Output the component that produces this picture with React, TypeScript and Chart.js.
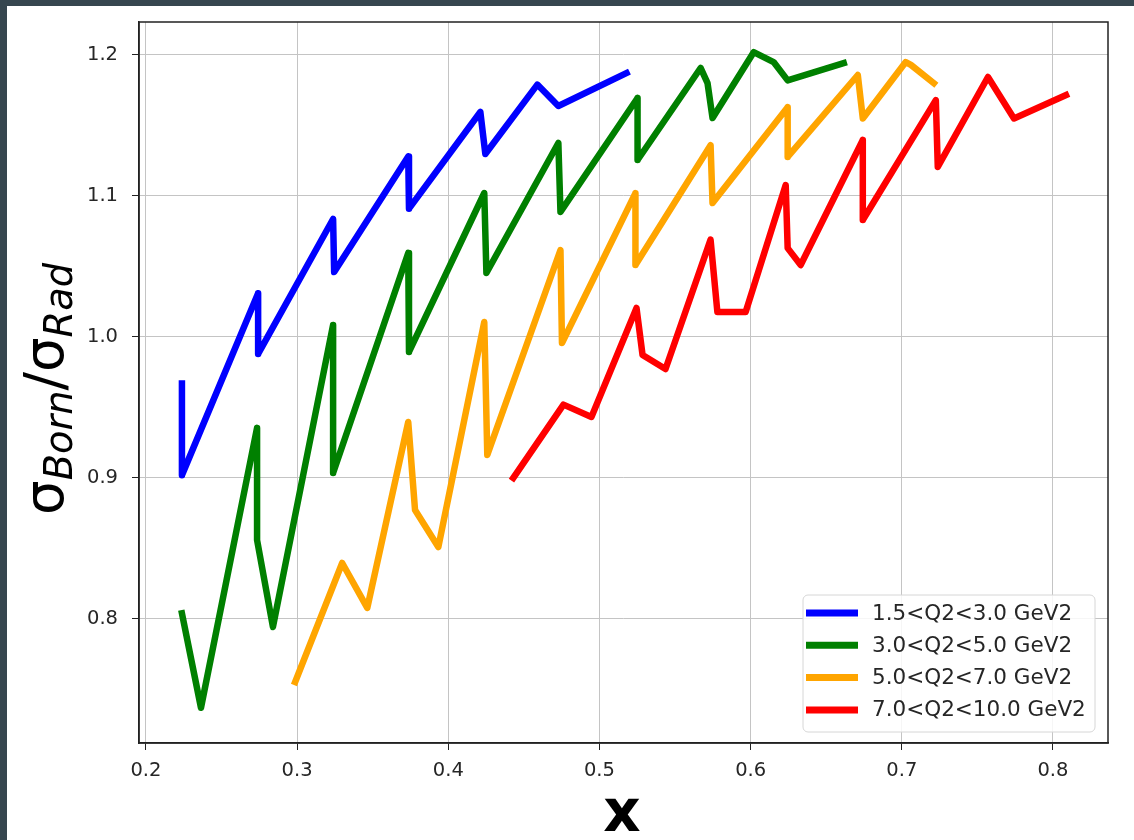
import React, { useEffect, useRef } from "react";
import { Chart, registerables } from "chart.js";

Chart.register(...registerables);

// ---- data ----
const seriesLabels = ["1.5<Q2<3.0 GeV2", "3.0<Q2<5.0 GeV2", "5.0<Q2<7.0 GeV2", "7.0<Q2<10.0 GeV2"];
const seriesColors = ["#0000ff", "#008000", "#ffa500", "#ff0000"];

const blueX = [0.2238, 0.2238, 0.2742, 0.2742, 0.3238, 0.3245, 0.3735, 0.374, 0.4212, 0.4245, 0.4589, 0.4728, 0.5179];
const blueY = [0.967, 0.902, 1.031, 0.988, 1.0837, 1.046, 1.128, 1.091, 1.1596, 1.1298, 1.179, 1.1638, 1.1872];

const greenX = [0.2238, 0.2364, 0.2735, 0.2735, 0.284, 0.3238, 0.3238, 0.3735, 0.374, 0.4238, 0.4252, 0.4728, 0.4742, 0.5252, 0.5252, 0.5669, 0.5715, 0.5748, 0.602, 0.6152, 0.6245, 0.6616];
const greenY = [0.804, 0.737, 0.9355, 0.856, 0.7943, 1.0085, 0.9035, 1.0596, 0.9894, 1.1021, 1.0454, 1.1376, 1.0887, 1.1695, 1.1255, 1.1908, 1.18, 1.1553, 1.202, 1.195, 1.182, 1.1943];

const orangeX = [0.2987, 0.3298, 0.3464, 0.3735, 0.378, 0.3934, 0.4238, 0.4258, 0.4742, 0.4752, 0.5238, 0.5238, 0.5735, 0.5748, 0.6245, 0.6245, 0.6709, 0.6742, 0.7026, 0.706, 0.7212];
const orangeY = [0.7553, 0.8397, 0.8078, 0.9397, 0.8773, 0.851, 1.0106, 0.9163, 1.0617, 0.9957, 1.102, 1.051, 1.136, 1.095, 1.163, 1.1277, 1.1858, 1.155, 1.195, 1.193, 1.18];

const redX = [0.443, 0.4762, 0.4947, 0.5245, 0.5285, 0.5437, 0.5735, 0.578, 0.5967, 0.6232, 0.6245, 0.6331, 0.6742, 0.6742, 0.7225, 0.7238, 0.757, 0.7742, 0.8086];
const redY = [0.9, 0.952, 0.9433, 1.0206, 0.9872, 0.9773, 1.069, 1.0177, 1.0177, 1.1078, 1.063, 1.051, 1.1397, 1.083, 1.168, 1.1206, 1.1844, 1.155, 1.1716];

const xTicks = [0.2, 0.3, 0.4, 0.5, 0.6, 0.7, 0.8];
const yTicks = [0.8, 0.9, 1.0, 1.1, 1.2];
const xRange = [0.1954, 0.8364];
const yRange = [0.712, 1.2234];

const xTitle = "x";
const yTitleParts = [
  { t: "σ", sub: false, italic: false },
  { t: "Born", sub: true, italic: true },
  { t: "/", sub: false, italic: false },
  { t: "σ", sub: false, italic: false },
  { t: "Rad", sub: true, italic: true },
];

const FONT = '"DejaVu Sans", "Liberation Sans", sans-serif';

const decorPlugin = {
  id: "decor",
  afterDraw(chart: any) {
    const ctx = chart.ctx as CanvasRenderingContext2D;
    const a = chart.chartArea;
    ctx.save();
    // frame
    ctx.strokeStyle = "#222";
    ctx.lineWidth = 1.5;
    ctx.strokeRect(a.left, a.top, a.right - a.left, a.bottom - a.top);

    // legend
    const bw = 292, bh = 137;
    const bx = a.right - 13 - bw, by = a.bottom - 11 - bh;
    const r = 5;
    ctx.beginPath();
    ctx.moveTo(bx + r, by);
    ctx.arcTo(bx + bw, by, bx + bw, by + bh, r);
    ctx.arcTo(bx + bw, by + bh, bx, by + bh, r);
    ctx.arcTo(bx, by + bh, bx, by, r);
    ctx.arcTo(bx, by, bx + bw, by, r);
    ctx.closePath();
    ctx.fillStyle = "rgba(255,255,255,0.85)";
    ctx.fill();
    ctx.strokeStyle = "#d6d6d6";
    ctx.lineWidth = 1;
    ctx.stroke();
    ctx.font = `21.5px ${FONT}`;
    ctx.textBaseline = "middle";
    ctx.textAlign = "left";
    seriesLabels.forEach((lab, i) => {
      const cy = by + 18 + i * 32.3;
      ctx.strokeStyle = seriesColors[i];
      ctx.lineWidth = 7;
      ctx.lineCap = "butt";
      ctx.beginPath();
      ctx.moveTo(bx + 3, cy);
      ctx.lineTo(bx + 55, cy);
      ctx.stroke();
      ctx.fillStyle = "#262626";
      ctx.fillText(lab, bx + 69, cy + 1);
    });

    // x title
    ctx.fillStyle = "#000";
    ctx.font = `bold 58px ${FONT}`;
    ctx.textAlign = "center";
    ctx.textBaseline = "alphabetic";
    ctx.fillText(xTitle, 622, 831);

    // y title (rotated, with subscripts)
    const base = 58, subScale = 0.7;
    const fontFor = (p: any, s: number) => `${p.italic ? "italic " : ""}${p.sub ? s * subScale : s}px ${FONT}`;
    const measure = (s: number) => yTitleParts.map((p) => { ctx.font = fontFor(p, s); return ctx.measureText(p.t).width; });
    let w = measure(base);
    let total = w.reduce((s, v) => s + v, 0);
    const size = base * (252 / total);
    w = measure(size);
    total = w.reduce((s, v) => s + v, 0);
    ctx.translate(63, 389);
    ctx.rotate(-Math.PI / 2);
    ctx.textAlign = "left";
    let x = -total / 2;
    yTitleParts.forEach((p, i) => {
      ctx.font = fontFor(p, size);
      ctx.fillText(p.t, x, p.sub ? size * 0.16 : 0);
      x += w[i];
    });
    ctx.restore();
  },
};

function makeData(xs: number[], ys: number[]) {
  return xs.map((x, i) => ({ x, y: ys[i] }));
}

export default function App() {
  const ref = useRef<HTMLCanvasElement>(null);
  useEffect(() => {
    const canvas = ref.current!;
    const all = [[blueX, blueY], [greenX, greenY], [orangeX, orangeY], [redX, redY]];
    const chart = new Chart(canvas, {
      type: "line",
      data: {
        datasets: all.map(([xs, ys], i) => ({
          label: seriesLabels[i],
          data: makeData(xs, ys),
          borderColor: seriesColors[i],
          backgroundColor: seriesColors[i],
          borderWidth: 6.5,
          pointRadius: 0,
          tension: 0,
          fill: false,
          borderJoinStyle: "round",
          borderCapStyle: "square",
        })),
      },
      options: {
        animation: false,
        responsive: false,
        devicePixelRatio: 1,
        layout: { padding: { top: 22, right: 26, left: 0, bottom: 0 } },
        plugins: { legend: { display: false }, tooltip: { enabled: false } },
        scales: {
          x: {
            type: "linear",
            min: xRange[0],
            max: xRange[1],
            afterFit: (s: any) => { s.height = 97; s.paddingLeft = 0; s.paddingRight = 0; },
            afterBuildTicks: (s: any) => { s.ticks = xTicks.map((v) => ({ value: v })); },
            grid: { color: "#c4c4c4", lineWidth: 1, tickLength: 7, tickColor: "#222", drawTicks: true },
            border: { display: true, color: "#222", width: 1.5 },
            ticks: { padding: 9, color: "#262626", font: { family: FONT, size: 19.5 }, maxRotation: 0, callback: (v: any) => Number(v).toFixed(1) },
          },
          y: {
            type: "linear",
            min: yRange[0],
            max: yRange[1],
            afterFit: (s: any) => { s.width = 139; s.paddingTop = 0; s.paddingBottom = 0; },
            afterBuildTicks: (s: any) => { s.ticks = yTicks.map((v) => ({ value: v })); },
            grid: { color: "#c4c4c4", lineWidth: 1, tickLength: 7, tickColor: "#222", drawTicks: true },
            border: { display: true, color: "#222", width: 1.5 },
            ticks: { padding: 14, color: "#262626", font: { family: FONT, size: 19.5 }, callback: (v: any) => Number(v).toFixed(1) },
          },
        },
      },
      plugins: [decorPlugin],
    } as any);
    return () => chart.destroy();
  }, []);

  return (
    <div style={{ position: "fixed", left: 0, top: 0, width: 1134, height: 840, background: "#36464f", overflow: "hidden" }}>
      <div style={{ position: "absolute", left: 7, top: 6, right: 0, bottom: 0, background: "#ffffff" }} />
      <canvas ref={ref} width={1134} height={840} style={{ position: "absolute", left: 0, top: 0, width: 1134, height: 840 }} />
    </div>
  );
}
